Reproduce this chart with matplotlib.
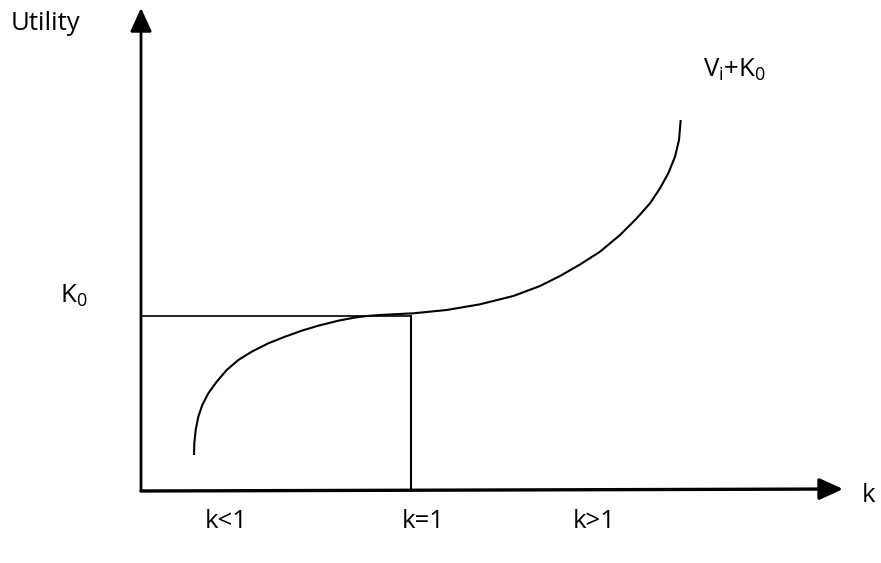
import matplotlib
matplotlib.use("Agg")
import matplotlib.pyplot as plt

plt.rcParams['font.family'] = ['Open Sans', 'DejaVu Sans']
plt.rcParams['mathtext.fontset'] = 'custom'
plt.rcParams['mathtext.rm'] = 'Open Sans'

# Curve V_i + K_0 (pixel-like coordinates)
curve_x = [194, 194.3, 195.7, 198.3, 202.3, 208.3, 216.7, 226.7, 238.3, 251.7,
           268.3, 285, 301.7, 318.3, 338.3, 355, 367, 380,
           413.3, 446.7, 480, 513.3, 540, 560,
           580, 600, 620, 636.7, 650, 660, 668.3, 675, 679, 680.7]
curve_y = [455, 443.3, 430, 416.7, 405, 393.3, 381.7, 370, 360, 351.7,
           343.3, 336.7, 330.7, 325.7, 320.7, 317.5, 316, 315,
           313.3, 310, 304.3, 296, 286, 276,
           264.5, 251.7, 235, 218.3, 203.3, 188.3, 173.3, 156.7, 140, 120]

# Axes and guide lines
origin = (141, 491)
y_axis_tip = (141, 8)
x_axis_tip = (843, 489)
k0_level = 316
k1_pos = 411

labels_bottom = ["k<1", "k=1", "k>1"]
labels_bottom_x = [226, 423, 594]

fig = plt.figure(figsize=(8.81, 5.63), dpi=100)
ax = fig.add_axes([0, 0, 1, 1])
ax.set_xlim(0, 881)
ax.set_ylim(563, 0)
ax.axis('off')

ax.plot(curve_x, curve_y, color='black', lw=1.5, solid_capstyle='butt',
        solid_joinstyle='round')

# guide lines
ax.plot([origin[0], k1_pos], [k0_level, k0_level], color='black', lw=1.2)
ax.plot([k1_pos, k1_pos], [k0_level, origin[1]], color='black', lw=1.5)

# axes with arrows
ax.annotate('', xy=y_axis_tip, xytext=origin,
            arrowprops=dict(arrowstyle='-|>,head_length=1.2,head_width=0.55',
                            lw=2.0, color='black', mutation_scale=12,
                            shrinkA=0, shrinkB=0))
ax.annotate('', xy=x_axis_tip, xytext=origin,
            arrowprops=dict(arrowstyle='-|>,head_length=1.2,head_width=0.55',
                            lw=2.4, color='black', mutation_scale=12,
                            shrinkA=0, shrinkB=0))

fs = 18.5
ax.text(11, 24, "Utility", fontsize=fs, ha='left', va='center')
ax.text(60, 296, r"K$_\mathregular{0}$", fontsize=fs, ha='left', va='center')
ax.text(703, 70, r"V$_\mathregular{i}$+K$_\mathregular{0}$", fontsize=fs,
        ha='left', va='center')
ax.text(862, 496, "k", fontsize=fs, ha='left', va='center')
for lab, lx in zip(labels_bottom, labels_bottom_x):
    ax.text(lx, 522, lab, fontsize=fs, ha='center', va='center')

fig.savefig("out.png", dpi=100)
